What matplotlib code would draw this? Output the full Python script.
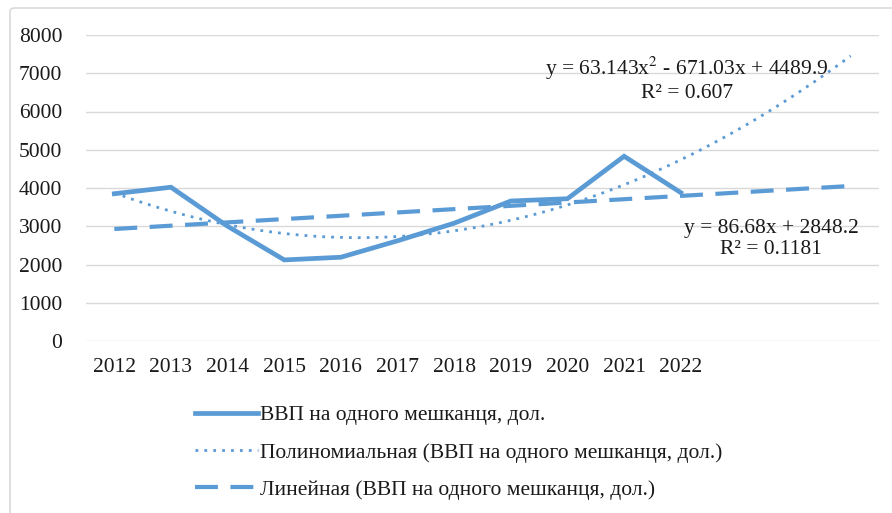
import numpy as np
import matplotlib.pyplot as plt
from matplotlib.patches import FancyBboxPatch

plt.rcParams['font.family'] = ['Liberation Serif', 'DejaVu Serif']
plt.rcParams['mathtext.fontset'] = 'stix'

# data
years = ['2012', '2013', '2014', '2015', '2016', '2017', '2018', '2019', '2020', '2021', '2022']
gdp = [3850, 4020, 3000, 2120, 2190, 2620, 3080, 3660, 3720, 4830, 3880]
forecast_periods = 3
poly_label = 'y = 63.143x$^2$ - 671.03x + 4489.9\nR² = 0.607'
lin_label = 'y = 86.68x + 2848.2\nR² = 0.1181'
series_name = 'ВВП на одного мешканця, дол.'

blue = '#5B9BD5'
W, H = 892, 513

fig = plt.figure(figsize=(W / 100, H / 100), dpi=100)
ax = fig.add_axes([86 / W, 1 - 341 / H, 793 / W, 306 / H])

x = np.arange(1, len(gdp) + 1)
xt = np.linspace(1, len(gdp) + forecast_periods, 200)

# trendlines fitted from the data
p2 = np.polyfit(x, gdp, 2)
p1 = np.polyfit(x, gdp, 1)

ax.plot(x, gdp, color=blue, lw=3.4, solid_joinstyle='miter', label=series_name, zorder=3)
ax.plot(xt, np.polyval(p2, xt), color=blue, lw=2.0, ls=(0, (1, 2.2)),
        label='Полиномиальная (' + series_name + ')', zorder=2)
ax.plot(xt, np.polyval(p1, xt), color=blue, lw=3.0, ls=(0, (5.5, 3)),
        label='Линейная (' + series_name + ')', zorder=2)

ax.set_xlim(0.5, len(gdp) + forecast_periods + 0.5)
ax.set_ylim(0, 8000)
ax.set_yticks(range(0, 8001, 1000))
ax.set_xticks(x)
ax.set_xticklabels(years)
ax.tick_params(length=0, labelsize=15.5, colors='#1a1a1a')
ax.tick_params(axis='y', pad=17)
ax.tick_params(axis='x', pad=12)
ax.grid(axis='y', color='#d9d9d9', lw=1)
ax.set_axisbelow(True)
for s in ax.spines.values():
    s.set_visible(False)

fig.text(687 / W, 1 - 79 / H, poly_label, ha='center', va='center',
         fontsize=15.5, color='#1a1a1a', linespacing=1.1)
fig.text(771 / W, 1 - 239 / H, lin_label, ha='center', va='center',
         fontsize=15.5, color='#1a1a1a', linespacing=1.1)

fig.legend(loc='upper left', bbox_to_anchor=(176 / W, 1 - 386 / H), frameon=False,
           fontsize=15.5, handlelength=2.9, handletextpad=0.1, labelspacing=0.8,
           labelcolor='#1a1a1a')

border = FancyBboxPatch((10 / W, -0.05), 1.2, 1 - 8 / H + 0.05,
                        boxstyle='round,pad=0,rounding_size=0.006',
                        transform=fig.transFigure, fill=False, ec='#d9d9d9', lw=1.2)
fig.patches.append(border)

fig.savefig('out.png', dpi=100)
